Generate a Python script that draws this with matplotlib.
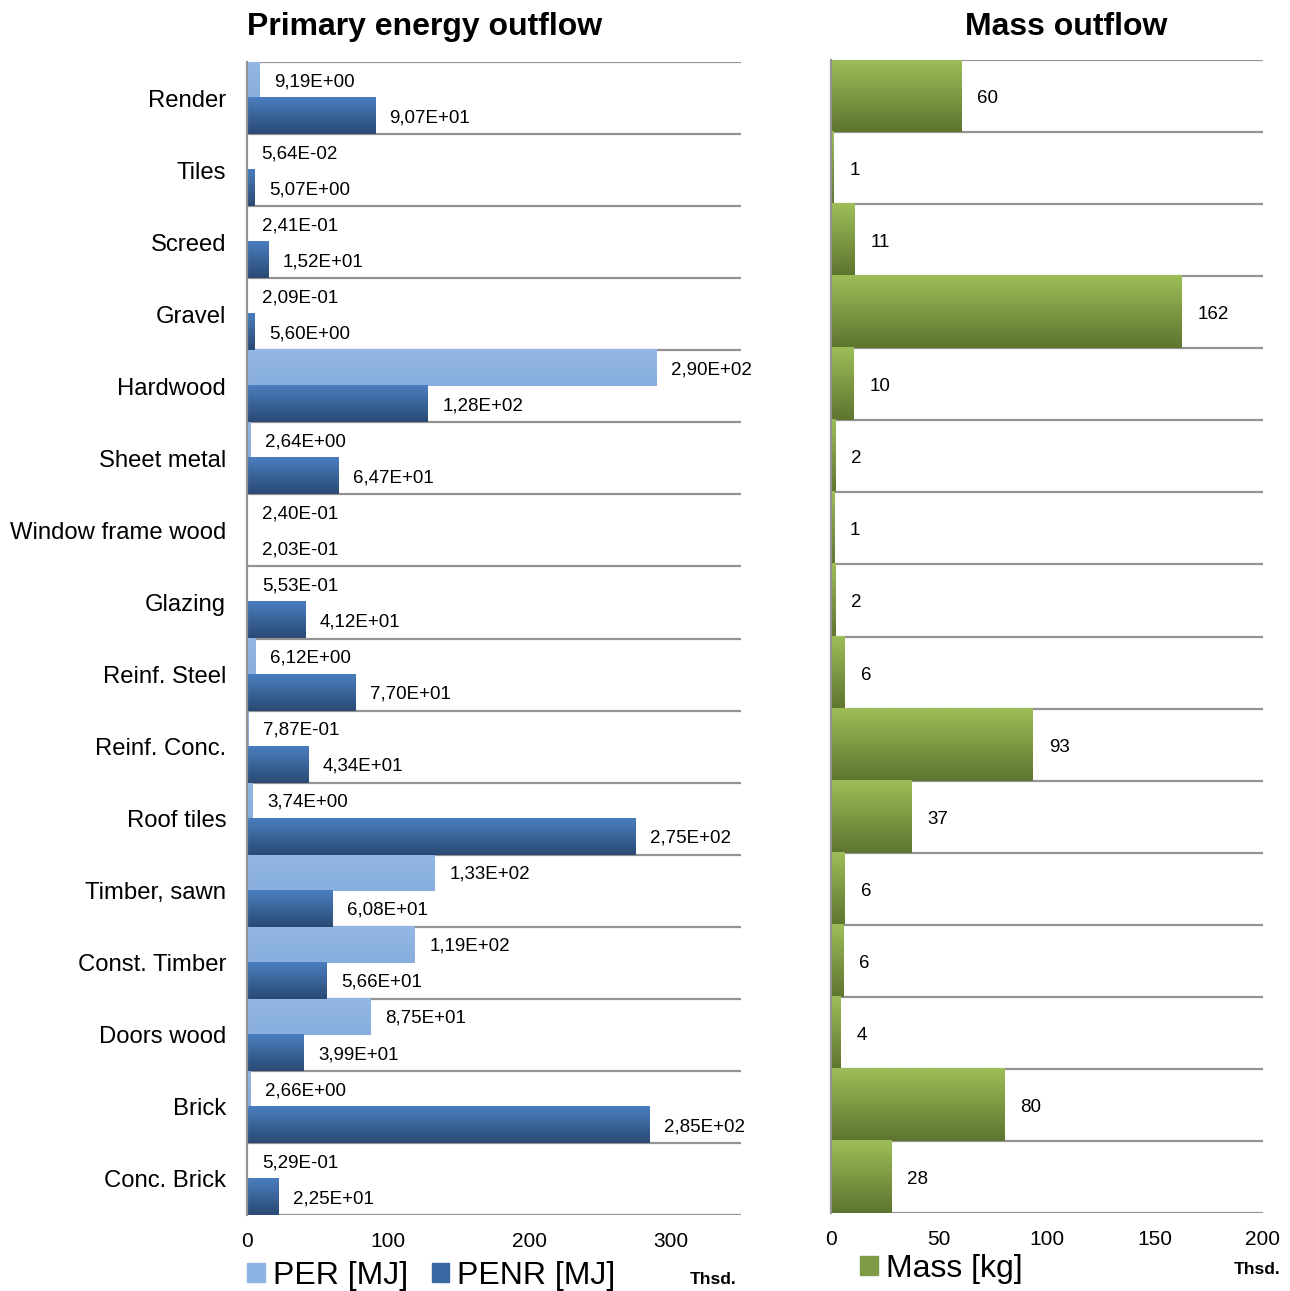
import numpy as np
import matplotlib
matplotlib.use("Agg")
import matplotlib.pyplot as plt
from matplotlib.patches import Patch

plt.rcParams['font.family'] = ['Liberation Sans', 'DejaVu Sans']

categories = ["Render", "Tiles", "Screed", "Gravel", "Hardwood", "Sheet metal",
              "Window frame wood", "Glazing", "Reinf. Steel", "Reinf. Conc.",
              "Roof tiles", "Timber, sawn", "Const. Timber", "Doors wood",
              "Brick", "Conc. Brick"]
# thousands of MJ
per = [9.19, 0.0564, 0.241, 0.209, 290, 2.64, 0.240, 0.553, 6.12, 0.787,
       3.74, 133, 119, 87.5, 2.66, 0.529]
penr = [90.7, 5.07, 15.2, 5.60, 128, 64.7, 0.203, 41.2, 77.0, 43.4,
        275, 60.8, 56.6, 39.9, 285, 22.5]
# thousands of kg
mass = [60.2, 1.0, 11.1, 162.4, 10.4, 2.0, 1.4, 2.0, 6.4, 93.4,
        37.4, 6.4, 5.6, 4.4, 80.1, 27.8]
left_ticks = [0, 100, 200, 300]
right_ticks = [0, 50, 100, 150, 200]

fig = plt.figure(figsize=(12.9, 12.91), dpi=100)
W, H = 1290, 1291
axL = fig.add_axes([247 / W, 1 - 1215 / H, (741 - 247) / W, (1215 - 62) / H])
axR = fig.add_axes([831 / W, 1 - 1213 / H, (1263 - 831) / W, (1213 - 60) / H])

n = len(categories)
y = np.arange(n)
GRID = '#939393'


def gradient_fill(ax, bars, top, bottom):
    c1 = np.array(matplotlib.colors.to_rgb(top))
    c2 = np.array(matplotlib.colors.to_rgb(bottom))
    t = np.linspace(0, 1, 64)[:, None]
    grad = (c1[None, :] * (1 - t) + c2[None, :] * t)[:, None, :]
    for p in bars:
        x0, y0, w, h = p.get_x(), p.get_y(), p.get_width(), p.get_height()
        ax.imshow(grad, extent=(x0, x0 + w, y0, y0 + h), origin='lower',
                  aspect='auto', zorder=2, interpolation='bilinear')
        p.set_visible(False)


def sci(v):
    return f"{v:.2E}".replace('.', ',')


# Left chart
b1 = axL.barh(y - 0.25, per, height=0.5, color='#8DB4E2', zorder=2)
b2 = axL.barh(y + 0.25, penr, height=0.5, color='#3A68A3', zorder=2)
gradient_fill(axL, b1, '#93B8E5', '#88AEDD')
gradient_fill(axL, b2, '#4A7EBF', '#2A4A74')
for yi, v in zip(y - 0.25, per):
    axL.annotate(sci(v), (v, yi), xytext=(10.5, -1.2), textcoords='offset points',
                 va='center', ha='left', fontsize=13.5, zorder=4)
for yi, v in zip(y + 0.25, penr):
    axL.annotate(sci(v), (v, yi), xytext=(10.5, -1.2), textcoords='offset points',
                 va='center', ha='left', fontsize=13.5, zorder=4)
axL.set_xlim(0, 350)
axL.set_ylim(n - 0.5, -0.5)
axL.set_yticks(y)
axL.set_yticklabels(categories, fontsize=17.2)
axL.set_xticks(left_ticks)
axL.set_xticklabels([str(t) for t in left_ticks], fontsize=15)
axL.tick_params(axis='y', length=0, pad=15)
axL.tick_params(axis='x', length=0, pad=12)
axL.hlines(np.arange(n + 1) - 0.5, 0, 350, color=GRID, lw=1.6, zorder=1)

# Right chart
b3 = axR.barh(y, mass, height=1.0, color='#7E9A44', zorder=2)
gradient_fill(axR, b3, '#9DBD58', '#5E752F')
for yi, v in zip(y, mass):
    axR.annotate(f"{v:.0f}", (v, yi), xytext=(11.5, -1.8), textcoords='offset points',
                 va='center', ha='left', fontsize=13.5, zorder=4)
axR.set_xlim(0, 200)
axR.set_ylim(n - 0.5, -0.5)
axR.set_yticks([])
axR.set_xticks(right_ticks)
axR.set_xticklabels([str(t) for t in right_ticks], fontsize=15)
axR.tick_params(axis='x', length=0, pad=12)
axR.hlines(np.arange(n + 1) - 0.5, 0, 200, color=GRID, lw=1.6, zorder=1)

for ax in (axL, axR):
    for s in ('top', 'right', 'bottom'):
        ax.spines[s].set_visible(False)
    ax.spines['left'].set_color(GRID)
    ax.spines['left'].set_linewidth(1.6)

# Titles
fig.text(425 / W, 1 - 27 / H, "Primary energy outflow", ha='center', va='center',
         fontsize=23, fontweight='bold')
fig.text(1066 / W, 1 - 27 / H, "Mass outflow", ha='center', va='center',
         fontsize=23, fontweight='bold')

# Legends
legL = fig.legend(handles=[Patch(color='#8DB4E2'), Patch(color='#3A68A3')],
                  labels=["PER [MJ]", "PENR [MJ]"], loc='center left',
                  bbox_to_anchor=(247 / W, 1 - 1276 / H), frameon=False, ncol=2,
                  fontsize=23, handlelength=0.55, handleheight=0.55,
                  handletextpad=0.25, columnspacing=0.75, borderpad=0, borderaxespad=0)
legR = fig.legend(handles=[Patch(color='#7E9A44')], labels=["Mass [kg]"],
                  loc='center left', bbox_to_anchor=(860 / W, 1 - 1269 / H),
                  frameon=False, fontsize=23, handlelength=0.55, handleheight=0.55,
                  handletextpad=0.25, borderpad=0, borderaxespad=0)

fig.text(737 / W, 1 - 1280 / H, "Thsd.", ha='right', va='center', fontsize=12.5,
         fontweight='bold')
fig.text(1280 / W, 1 - 1270 / H, "Thsd.", ha='right', va='center', fontsize=12.5,
         fontweight='bold')

fig.savefig("out.png", dpi=100)
